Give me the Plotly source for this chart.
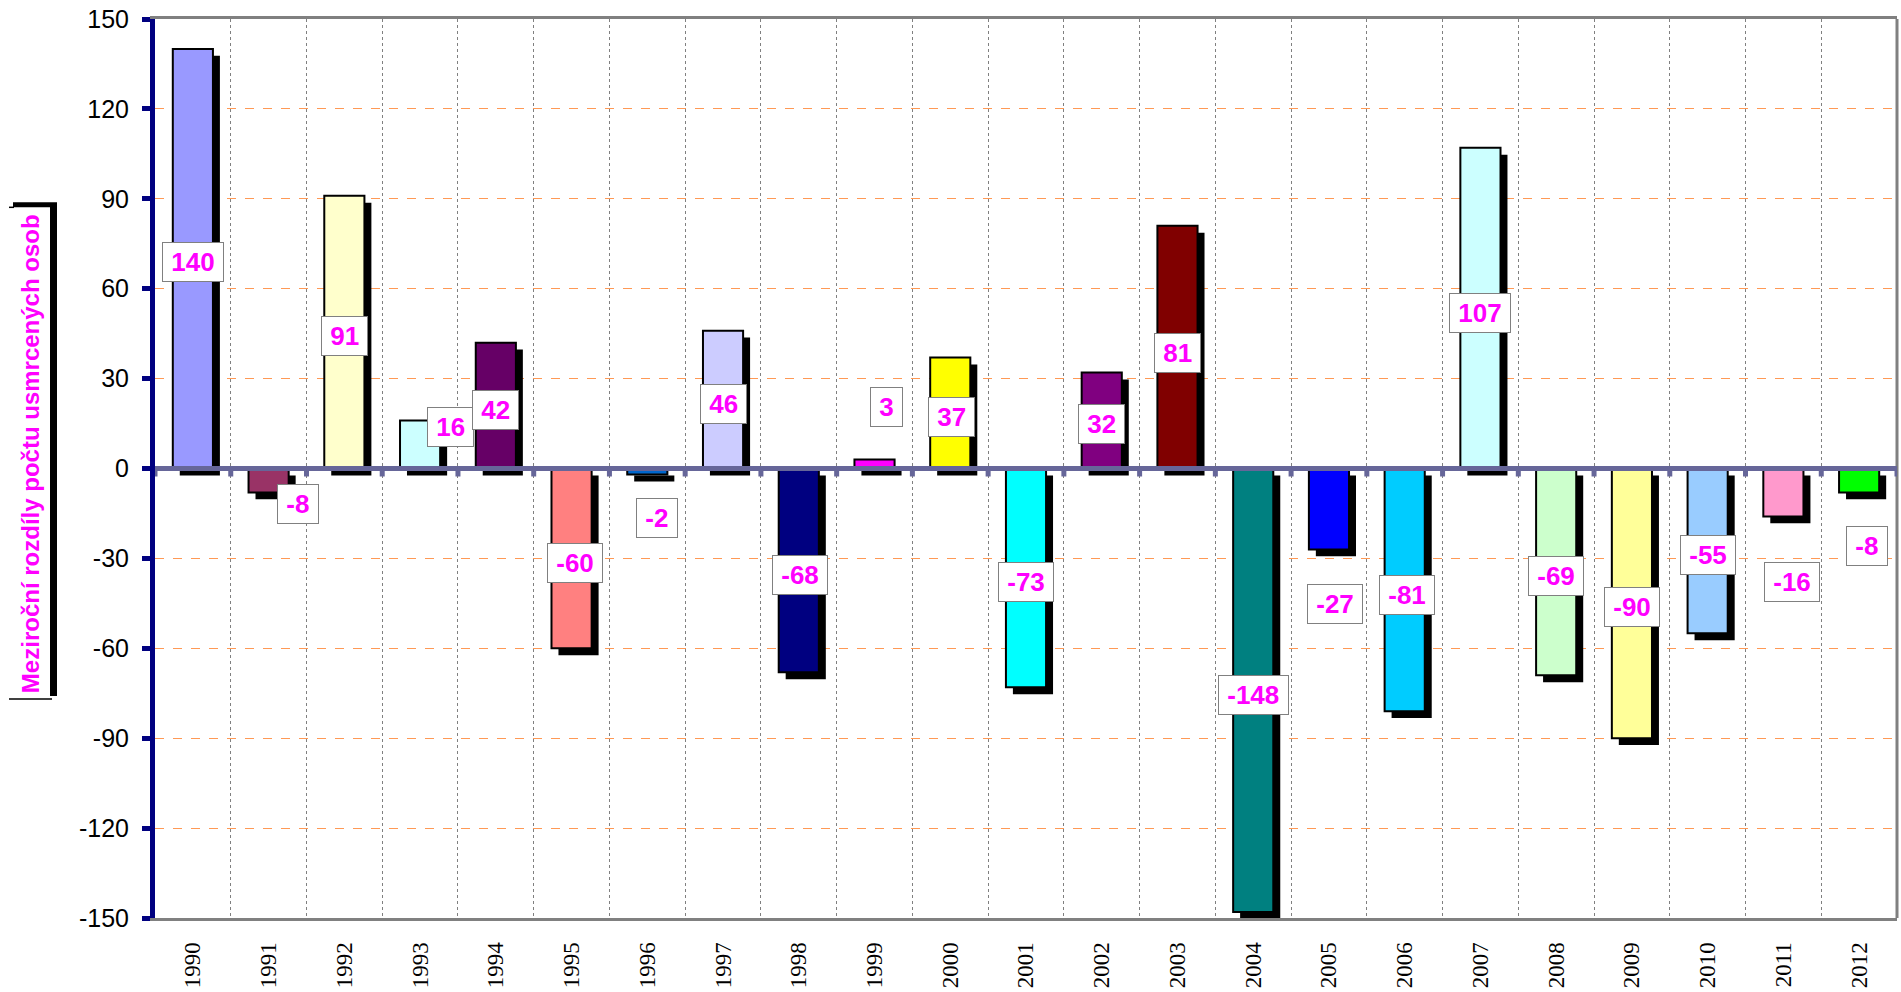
import plotly.graph_objects as go

# ---- data ----
years = [str(y) for y in range(1990, 2013)]
values = [140, -8, 91, 16, 42, -60, -2, 46, -68, 3, 37, -73, 32, 81,
          -148, -27, -81, 107, -69, -90, -55, -16, -8]
bar_colors = ["#9999FF", "#993366", "#FFFFCC", "#CCFFFF", "#660066", "#FF8080",
              "#0066CC", "#CCCCFF", "#000080", "#FF00FF", "#FFFF00", "#00FFFF",
              "#800080", "#800000", "#008080", "#0000FF", "#00CCFF", "#CCFFFF",
              "#CCFFCC", "#FFFF99", "#99CCFF", "#FF99CC", "#00FF00"]
y_ticks = [150, 120, 90, 60, 30, 0, -30, -60, -90, -120, -150]

# label placement (data-unit y, pixel x shift)
label_y = [70, -10.8, 45.3, 14.9, 20.5, -30.5, -15.6, 22.5, -34.5, 21.5, 18.2,
           -36.9, 15.7, 39.7, -74.6, -44.1, -41.3, 53, -34.8, -45.3, -27.7,
           -36.8, -24.8]
label_dx = [0, 29, 0, 30, 0, 3, 10, 0, 1, 12, 1, 0, 0, 0, 0, 6, 2, 0, 0, 0, 0, 9, 8]

y_title = "Meziroční rozdíly počtu usmrcených osob"

W, H = 1901, 992
ML, MR, MT, MB = 155, 4, 19, 66
PW, PH = W - ML - MR, H - MT - MB


def px_x(p):
    return (p - ML) / PW


def px_y(p):
    return (H - MB - p) / PH


BAR_W = 0.53
SH_DX = 0.092
SH_DY = 2.3

fig = go.Figure()
# shadows
fig.add_trace(go.Bar(
    x=years, y=values, base=-SH_DY, width=BAR_W, offset=-BAR_W / 2 + SH_DX,
    marker=dict(color="black", line=dict(width=0)),
    hoverinfo="skip", showlegend=False))
# bars
fig.add_trace(go.Bar(
    x=years, y=values, width=BAR_W, offset=-BAR_W / 2,
    marker=dict(color=bar_colors, line=dict(color="black", width=2)),
    showlegend=False))

annotations = []
for i, v in enumerate(values):
    annotations.append(dict(
        x=i, y=label_y[i], xref="x", yref="y", xshift=label_dx[i], yshift=-3,
        xanchor="center", yanchor="middle",
        text="<b>\u00a0" + str(v) + "\u00a0</b>", showarrow=False,
        font=dict(family="Arial, Liberation Sans", size=26, color="#FF00FF"),
        bgcolor="white", bordercolor="#808080", borderwidth=1, borderpad=1,
        height=36, valign="middle"))

annotations.append(dict(
    x=px_x(30), y=px_y(458), xref="paper", yref="paper",
    xanchor="center", yanchor="middle",
    text="<b>" + y_title + "</b>", textangle=-90, showarrow=False,
    font=dict(family="Arial, Liberation Sans", size=24, color="#FF00FF")))

shapes = []
# title box shadow and box
shapes.append(dict(type="rect", xref="paper", yref="paper",
                   x0=px_x(13), x1=px_x(57), y0=px_y(702), y1=px_y(204),
                   fillcolor="black", line=dict(width=0), layer="above"))
shapes.append(dict(type="rect", xref="paper", yref="paper",
                   x0=px_x(9), x1=px_x(50), y0=px_y(705), y1=px_y(209),
                   fillcolor="white", line=dict(width=0), layer="above"))
shapes.append(dict(type="line", xref="paper", yref="paper",
                   x0=px_x(9), x1=px_x(52), y0=px_y(705), y1=px_y(705),
                   line=dict(color="black", width=1.5), layer="above"))
shapes.append(dict(type="line", xref="paper", yref="paper",
                   x0=px_x(9), x1=px_x(14), y0=px_y(209), y1=px_y(209),
                   line=dict(color="black", width=1.5), layer="above"))
# right border
shapes.append(dict(type="line", xref="paper", yref="paper",
                   x0=1, x1=1, y0=0, y1=1,
                   line=dict(color="#808080", width=3), layer="above"))
# zero line with boundary ticks
shapes.append(dict(type="line", xref="paper", yref="y",
                   x0=0, x1=1, y0=0, y1=0,
                   line=dict(color="#666699", width=5), layer="above"))
for i in range(len(years) + 1):
    shapes.append(dict(type="rect", xref="x", yref="y",
                       xsizemode="pixel", xanchor=i - 0.5, x0=-2.5, x1=2.5,
                       ysizemode="pixel", yanchor=0, y0=-8, y1=-2,
                       fillcolor="#666699", line=dict(width=0), layer="above"))

fig.update_layout(
    width=W, height=H,
    margin=dict(l=ML, r=MR, t=MT, b=MB, pad=0),
    paper_bgcolor="white", plot_bgcolor="white",
    barmode="overlay",
    annotations=annotations, shapes=shapes,
    font=dict(family="Arial, Liberation Sans", color="black"),
)
fig.update_xaxes(
    type="category", categoryorder="array", categoryarray=years,
    tickson="boundaries", showgrid=True, gridcolor="#808080", griddash="dot",
    gridwidth=1, ticks="", tickangle=-90, ticklabelstandoff=12,
    tickfont=dict(family="Liberation Serif, Times New Roman", size=23, color="black"),
    showline=True, linecolor="#808080", linewidth=3, mirror=True,
    range=[-0.5, len(years) - 0.5], fixedrange=True)
fig.update_yaxes(
    range=[-150, 150], tickmode="array", tickvals=y_ticks,
    ticktext=[str(t) for t in y_ticks],
    showgrid=True, gridcolor="#FF9955", griddash="dash", gridwidth=1,
    zeroline=False, showline=True, linecolor="#000080", linewidth=5,
    ticks="outside", ticklen=8, tickwidth=5, tickcolor="#000080",
    ticklabelstandoff=8,
    tickfont=dict(family="Arial, Liberation Sans", size=25, color="black"),
    fixedrange=True)

fig.write_html("out.html", config={"displayModeBar": False},
               post_script="document.body.style.margin='0';")
